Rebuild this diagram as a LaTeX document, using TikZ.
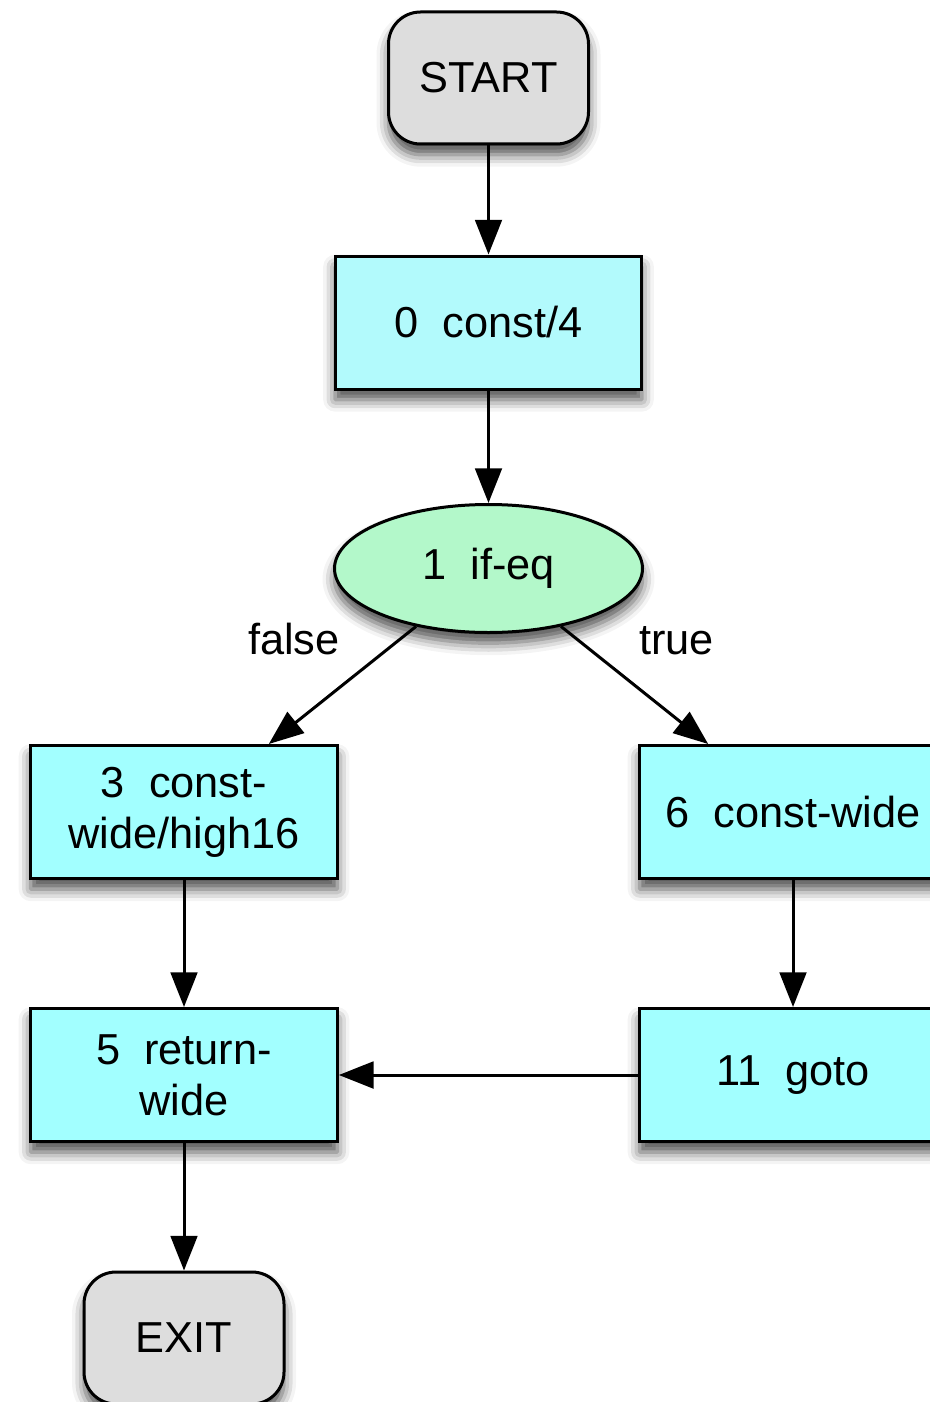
\documentclass[tikz,border=0pt]{standalone}
\usepackage{fontspec}
\setmainfont{Liberation Sans}
\usetikzlibrary{shapes.geometric,arrows.meta,shadows.blur}

\definecolor{endgray}{RGB}{221,221,221}
\definecolor{firstcyan}{RGB}{178,250,252}
\definecolor{insncyan}{RGB}{162,255,255}
\definecolor{branchgreen}{RGB}{179,248,202}

\newcommand\cfgfont{\fontsize{32.5pt}{38.25pt}\selectfont}

\tikzset{every picture/.style={line width=0.75pt}}
\tikzset{
  cfgshadow/.style={blur shadow={shadow xshift=0pt,shadow yshift=-8pt,shadow blur radius=9pt,shadow opacity=70}},
  endpoint/.style={draw,line width=2.25pt,rounded corners=24pt,fill=endgray,minimum width=150pt,minimum height=99pt,inner sep=0pt,font=\cfgfont,cfgshadow},
  insn/.style={draw,line width=2.25pt,fill=insncyan,minimum width=230pt,minimum height=99.75pt,inner sep=0pt,align=center,font=\cfgfont,cfgshadow},
  branch/.style={ellipse,draw,line width=2.25pt,fill=branchgreen,minimum width=231pt,minimum height=96pt,inner sep=0pt,font=\cfgfont,cfgshadow},
  flow/.style={line width=2.25pt,-{Triangle[length=26pt,width=20pt]}},
  edgelabel/.style={anchor=base,font=\cfgfont}
}

\begin{document}
\begin{tikzpicture}[x=0.75pt,y=0.75pt,yscale=-1,xscale=1]
\clip (0,0) rectangle (930,1402);

%Shape: Rounded Rectangle
\node [endpoint] (start) at (488.5,78) {START};
%Shape: Rectangle
\node [insn,fill=firstcyan] (n0) at (488.5,322.5) {0\ \ const/4};
%Shape: Ellipse
\node [branch] (n1) at (488.5,568.5) {1\ \ if-eq};
%Shape: Rectangle
\node [insn] (n3) at (184,812) {3\ \ const-\\wide/high16};
%Shape: Rectangle
\node [insn] (n6) at (793,812) {6\ \ const-wide};
%Shape: Rectangle
\node [insn] (n5) at (184,1075) {5\ \ return-\\wide};
%Shape: Rectangle
\node [insn] (n11) at (793,1075) {11\ \ goto};
%Shape: Rounded Rectangle
\node [endpoint] (exit) at (184,1338) {EXIT};

% Text Node
\node [edgelabel] (lblfalse) at (294,654) {false};
% Text Node
\node [edgelabel] (lbltrue) at (676.5,654) {true};

%Straight Lines
\draw [flow] (start) -- (n0);
\draw [flow] (n0) -- (n1);
\draw [flow] (n1) -- (n3);
\draw [flow] (n1) -- (n6);
\draw [flow] (n3) -- (n5);
\draw [flow] (n6) -- (n11);
\draw [flow] (n11) -- (n5);
\draw [flow] (n5) -- (exit);

\end{tikzpicture}
\end{document}
